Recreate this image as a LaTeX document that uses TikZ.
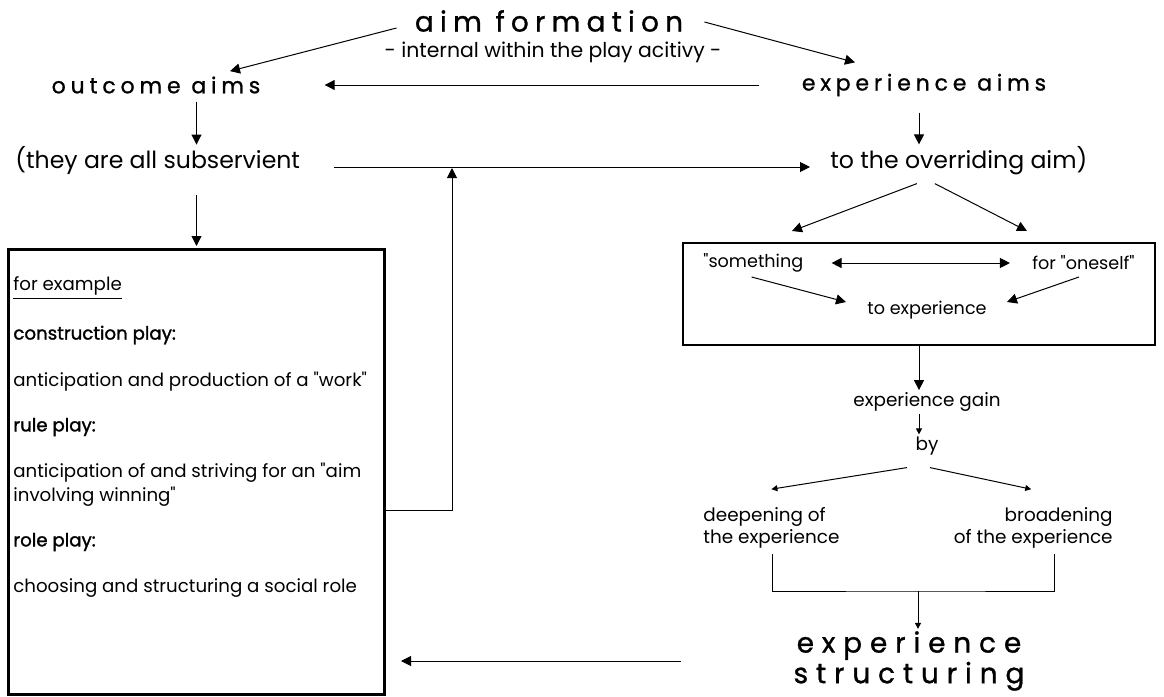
\documentclass[tikz,border=0pt]{standalone}
\usepackage{fontspec}
\setmainfont{Poppins}
\newfontfamily\spaced[LetterSpace=22,FakeBold=1]{Poppins}
\newfontfamily\wide[LetterSpace=28,FakeBold=1]{Poppins}
\newfontfamily\semibold[FakeBold=1.5]{Poppins}
\newcommand\qq{\textquotedbl}
\usetikzlibrary{positioning,arrows.meta,calc}
\tikzset{
  plain/.style   = {inner sep=1pt, font=\fontsize{11.8}{14}\selectfont},
  smalltxt/.style= {inner sep=1pt, font=\fontsize{9.2}{11}\selectfont},
  innertxt/.style= {inner sep=1pt, font=\fontsize{8.8}{11}\selectfont},
  boxtxt/.style  = {inner sep=0pt, anchor=west, align=left,
                    font=\fontsize{9.1}{11.8}\selectfont},
  boxhead/.style = {boxtxt, font=\semibold\fontsize{9.1}{11.8}\selectfont},
  aimhead/.style = {inner sep=1pt, font=\spaced\fontsize{11}{13}\selectfont},
  aimtitle/.style= {inner sep=1pt, font=\spaced\fontsize{14}{16}\selectfont},
  bigbox/.style  = {rectangle, draw, line width=1.5pt, anchor=north west,
                    minimum width=188pt, minimum height=222.5pt},
  selfframe/.style = {rectangle, draw, line width=1pt,
                    minimum width=236pt, minimum height=51pt},
  arr/.style     = {-{Triangle[length=5pt,width=5pt]}, line width=0.5pt},
  smallarr/.style= {-{Triangle[length=3pt,width=3pt]}, line width=0.5pt},
  dblarr/.style  = {{Triangle[length=5pt,width=5pt]}-{Triangle[length=5pt,width=5pt]}, line width=0.5pt}
}

\begin{document}
\begin{tikzpicture}[x=0.5pt, y=-0.5pt]
  \useasboundingbox (0,0) rectangle (1164,697);

  \node[aimtitle] (aimform) at (549,21) {aim formation};
  \node[smalltxt, font=\fontsize{10.2}{12}\selectfont] (internal) at (553,52) {- internal within the play acitivy -};
  \node[aimhead] (outcome) at (156,85) {outcome aims};
  \node[aimhead] (experience) at (924,85) {experience aims};

  \node[plain, anchor=west] (subserv) at (13,161) {(they are all subservient};
  \node[plain, anchor=west] (overriding) at (828,161) {to the overriding aim)};

  % left box with the examples
  \node[bigbox] (examples) at (7,248) {};
  \node[boxtxt] (forex) at (13,288) {\underline{for example}};
  \node[boxhead] (constr) at (13,335) {construction play:};
  \node[boxtxt] (work) at (13,382) {anticipation and production of a \qq work\qq};
  \node[boxhead] (rule) at (13,427) {rule play:};
  \node[boxtxt] (winning) at (13,485) {anticipation of and striving for an \qq aim\\involving winning\qq};
  \node[boxhead] (role) at (13,542) {role play:};
  \node[boxtxt] (social) at (13,588) {choosing and structuring a social role};

  % right column
  \node[selfframe] (selfbox) at (919,294) {};
  \node[innertxt, anchor=west] (something) at (701,263) {\qq something};
  \node[innertxt, anchor=east] (oneself) at (1137,263) {for \qq oneself\qq};
  \node[innertxt] (toexp) at (927,310) {to experience};
  \node[smalltxt] (gain) at (927,402) {experience gain};
  \node[smalltxt] (by) at (927,446) {by};
  \node[smalltxt, anchor=west, align=left] (deepen) at (701,528) {deepening of\\the experience};
  \node[smalltxt, anchor=east, align=right] (broaden) at (1115,528) {broadening\\of the experience};
  \node[aimtitle, align=center, font=\wide\fontsize{14}{14}\selectfont] (structuring) at (909,661)
       {experience\\structuring};

  \coordinate (joint) at (452,168);
  \coordinate (brjoin) at (918,591);

  \draw[arr] ([shift={(-16,7)}]aimform.west) -- ([shift={(74,-3)}]outcome.north);
  \draw[arr] ([shift={(19,1)}]aimform.east) -- ([shift={(-69,-9)}]experience.north);
  \draw[arr, shorten <=20pt, shorten >=31pt] (experience.west) -- (outcome.east);

  \draw[arr, shorten <=3pt] (outcome.south -| examples.north) -- (subserv.north -| examples.north);
  \draw[arr, shorten <=9pt, shorten >=1pt] (subserv.south -| examples.north) -- (examples.north);
  \draw[arr, shorten <=16pt, shorten >=9pt] ([yshift=-3pt]subserv.east) -- ([yshift=-3pt]overriding.west);
  \draw[arr] ([shift={(0,38.5)}]examples.east) -| (joint);

  \draw[arr, shorten <=7pt] (experience.south -| selfbox.north) -- (overriding.north -| selfbox.north);
  \draw[arr] ([shift={(-42,6)}]overriding.south) -- ([shift={(-127,-11)}]selfbox.north);
  \draw[arr] ([shift={(-24,6)}]overriding.south) -- ([shift={(108,-11)}]selfbox.north);

  \draw[dblarr, shorten <=13pt, shorten >=10pt] (something.east) -- (oneself.west);
  \draw[arr] ([shift={(-54,14)}]something.east) -- ([shift={(-19,-8)}]toexp.west);
  \draw[arr] ([shift={(49,14)}]oneself.west) -- ([shift={(18,-8)}]toexp.east);

  \draw[arr] (selfbox.south) -- (selfbox.south |- gain.north);
  \draw[smallarr] (gain.south -| selfbox.south) -- (by.north -| selfbox.south);
  \draw[smallarr] ([shift={(-20,10)}]by.south) -- ([shift={(0,-16)}]deepen.north);
  \draw[smallarr] ([shift={(3,10)}]by.south) -- ([shift={(-2,-16)}]broaden.north);

  \draw ([shift={(1,3)}]deepen.south) |- (brjoin) -| ([shift={(21,3)}]broaden.south);
  \draw[smallarr] (brjoin) -- (brjoin |- structuring.north);
  \draw[arr, shorten <=55pt, shorten >=7.5pt] (structuring.west) -- (structuring.west -| examples.east);
\end{tikzpicture}
\end{document}
